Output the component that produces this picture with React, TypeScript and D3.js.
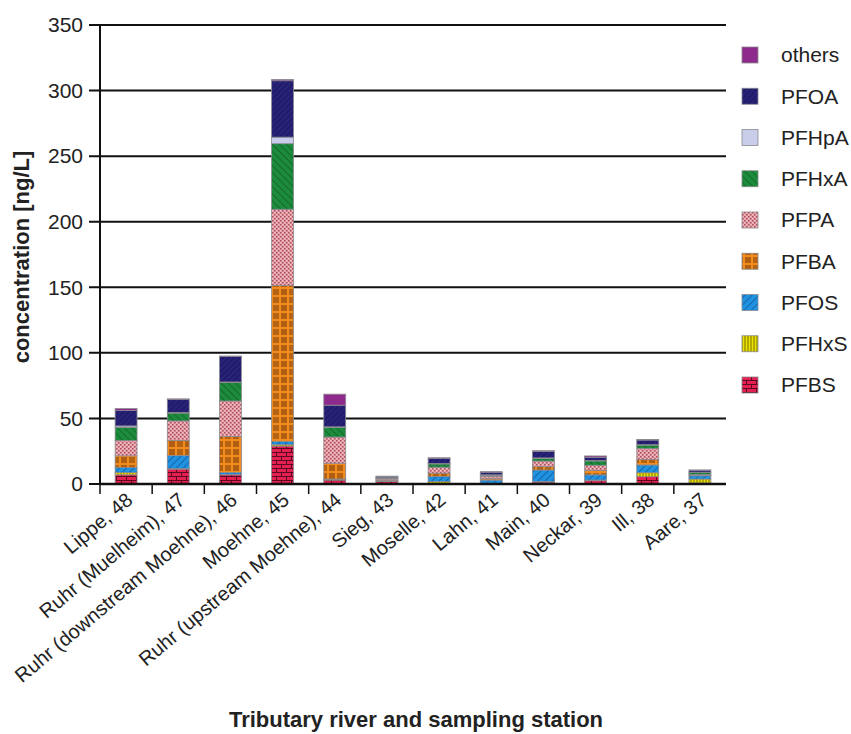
import React from 'react';
import * as d3 from 'd3';

const categories = [
  'Lippe, 48',
  'Ruhr (Muelheim), 47',
  'Ruhr (downstream Moehne), 46',
  'Moehne, 45',
  'Ruhr (upstream Moehne), 44',
  'Sieg, 43',
  'Moselle, 42',
  'Lahn, 41',
  'Main, 40',
  'Neckar, 39',
  'Ill, 38',
  'Aare, 37',
];
const seriesNames = ['PFBS', 'PFHxS', 'PFOS', 'PFBA', 'PFPA', 'PFHxA', 'PFHpA', 'PFOA', 'others'];
const PFBS = [7, 11.4, 7, 29, 3, 1.8, 0.3, 0.3, 1.5, 2.5, 5.6, 0.8];
const PFHxS = [1.7, 0.3, 0.3, 1, 0.3, 0.2, 1.5, 0.2, 0.3, 0.5, 3, 3];
const PFOS = [3.8, 10, 1.5, 2.5, 0.5, 0.4, 4, 2.5, 8.9, 4, 5.9, 2.5];
const PFBA = [9, 11.4, 27.5, 119, 12, 0.8, 2.5, 1, 2.5, 3.5, 4.3, 0.5];
const PFPA = [11.6, 15, 27, 58, 20, 1, 4.5, 2, 4.3, 3.8, 8.4, 0.5];
const PFHxA = [10.2, 6, 14, 50, 7.5, 0.4, 2.5, 0.8, 2.1, 3.3, 2.5, 1.5];
const PFHpA = [1, 0.5, 0.5, 5, 0.3, 0.2, 0.3, 0.2, 0.3, 0.3, 0.3, 0.2];
const PFOA = [11.7, 10, 19.5, 43, 16.5, 0.8, 4, 2, 4.8, 2.5, 3.5, 1.5];
const others = [1.5, 0.3, 0.3, 1, 8.4, 0.4, 0.4, 0.4, 0.7, 1, 0.5, 0.2];
const yTicks = [0, 50, 100, 150, 200, 250, 300, 350];

const seriesValues: Record<string, number[]> = { PFBS, PFHxS, PFOS, PFBA, PFPA, PFHxA, PFHpA, PFOA, others };

const FONT = "'Liberation Sans', Arial, sans-serif";

function Patterns() {
  return (
    <defs>
      <pattern id="p-PFBS" width="10" height="8" patternUnits="userSpaceOnUse">
        <rect width="10" height="8" fill="#e3204f" />
        <path d="M0,0.5H10M0,4.5H10M1.5,0.5V4.5M6.5,4.5V8" stroke="#5a0a22" strokeWidth="1" fill="none" />
      </pattern>
      <pattern id="p-PFHxS" width="3" height="4" patternUnits="userSpaceOnUse">
        <rect width="3" height="4" fill="#ece400" />
        <path d="M1,0V4" stroke="#6a6000" strokeWidth="0.9" />
      </pattern>
      <pattern id="p-PFOS" width="5" height="5" patternUnits="userSpaceOnUse" patternTransform="rotate(45)">
        <rect width="5" height="5" fill="#1f92e2" />
        <path d="M0,0V5" stroke="#17407a" strokeWidth="1.1" />
      </pattern>
      <pattern id="p-PFBA" width="16" height="8" patternUnits="userSpaceOnUse">
        <rect width="16" height="8" fill="#f28c1e" />
        <path
          d="M1,2H7M1,4H7M1,6H7M10,1V7M12,1V7M14,1V7"
          stroke="#7a3a08"
          strokeWidth="1.1"
          fill="none"
        />
      </pattern>
      <pattern id="p-PFPA" width="4" height="4" patternUnits="userSpaceOnUse">
        <rect width="4" height="4" fill="#e39ea6" />
        <rect x="0" y="0" width="1.5" height="1.5" fill="#b24d5c" />
        <rect x="2" y="2" width="1.5" height="1.5" fill="#b24d5c" />
        <rect x="2.2" y="0.2" width="1.1" height="1.1" fill="#f6d6da" />
        <rect x="0.2" y="2.2" width="1.1" height="1.1" fill="#f6d6da" />
      </pattern>
      <pattern id="p-PFHxA" width="5" height="5" patternUnits="userSpaceOnUse" patternTransform="rotate(-45)">
        <rect width="5" height="5" fill="#1c8c3c" />
        <path d="M0,0V5" stroke="#0d4a20" strokeWidth="1.1" />
      </pattern>
      <pattern id="p-PFHpA" width="4" height="4" patternUnits="userSpaceOnUse">
        <rect width="4" height="4" fill="#c9cdea" />
      </pattern>
      <pattern id="p-PFOA" width="4" height="4" patternUnits="userSpaceOnUse" patternTransform="rotate(45)">
        <rect width="4" height="4" fill="#221c6c" />
        <path d="M0,0V4" stroke="#3a3596" strokeWidth="1" />
      </pattern>
      <pattern id="p-others" width="4" height="4" patternUnits="userSpaceOnUse">
        <rect width="4" height="4" fill="#8d2a8b" />
      </pattern>
    </defs>
  );
}

export default function App() {
  const W = 851;
  const H = 734;
  const left = 100;
  const right = 726;
  const top = 25;
  const bottom = 484;

  const x = d3
    .scaleBand<string>()
    .domain(categories)
    .range([left, right])
    .paddingInner(0.58)
    .paddingOuter(0.29);
  const step = x.step();
  const y = d3.scaleLinear().domain([0, 350]).range([bottom, top]);

  const table = categories.map((c, i) => {
    const row: any = { cat: c };
    seriesNames.forEach((s) => (row[s] = seriesValues[s][i]));
    return row;
  });
  const stacked = d3.stack<any>().keys(seriesNames)(table);

  const legendOrder = [...seriesNames].reverse();

  return (
    <div style={{ position: 'absolute', left: 0, top: 0 }}>
      <svg width={W} height={H} style={{ display: 'block', background: '#fff' }}>
        <Patterns />
        {yTicks.map((t) => (
          <g key={t}>
            <line x1={left - 11} x2={right} y1={y(t)} y2={y(t)} stroke="#111" strokeWidth={2} />
            <text
              x={left - 17}
              y={y(t)}
              dy="0.35em"
              textAnchor="end"
              fontFamily={FONT}
              fontSize={21}
              fill="#222"
            >
              {t}
            </text>
          </g>
        ))}
        {stacked.map((layer) => (
          <g key={layer.key}>
            {layer.map((d, i) => {
              const y0 = y(d[0]);
              const y1 = y(d[1]);
              return (
                <rect
                  key={i}
                  x={x(categories[i])}
                  width={x.bandwidth()}
                  y={y1}
                  height={Math.max(0, y0 - y1)}
                  fill={`url(#p-${layer.key})`}
                  stroke="#8a8a90"
                  strokeWidth={0.8}
                />
              );
            })}
          </g>
        ))}
        <line x1={left} x2={left} y1={top} y2={bottom} stroke="#111" strokeWidth={2} />
        <line x1={left} x2={right} y1={bottom} y2={bottom} stroke="#111" strokeWidth={2.5} />
        {categories.map((c, i) => (
          <line
            key={c}
            x1={left + step * i}
            x2={left + step * i}
            y1={bottom}
            y2={bottom + 10}
            stroke="#111"
            strokeWidth={1.5}
          />
        ))}
        {categories.map((c) => {
          const cx = (x(c) as number) + x.bandwidth() / 2;
          return (
            <text
              key={c}
              transform={`translate(${cx + 8},${bottom + 18}) rotate(-40)`}
              textAnchor="end"
              fontFamily={FONT}
              fontSize={20}
              fill="#222"
            >
              {c}
            </text>
          );
        })}
        <text
          transform={`translate(29,257) rotate(-90)`}
          textAnchor="middle"
          fontFamily={FONT}
          fontSize={22}
          fontWeight="bold"
          fill="#222"
        >
          concentration [ng/L]
        </text>
        <text
          x={416}
          y={727}
          textAnchor="middle"
          fontFamily={FONT}
          fontSize={22}
          fontWeight="bold"
          fill="#222"
        >
          Tributary river and sampling station
        </text>
        {legendOrder.map((s, i) => {
          const cy = 55 + i * 41.25;
          return (
            <g key={s}>
              <rect
                x={742}
                y={cy - 8}
                width={16}
                height={16}
                fill={`url(#p-${s})`}
                stroke="#8a8a90"
                strokeWidth={0.8}
              />
              <text x={781} y={cy} dy="0.35em" fontFamily={FONT} fontSize={21} fill="#222">
                {s}
              </text>
            </g>
          );
        })}
      </svg>
    </div>
  );
}
